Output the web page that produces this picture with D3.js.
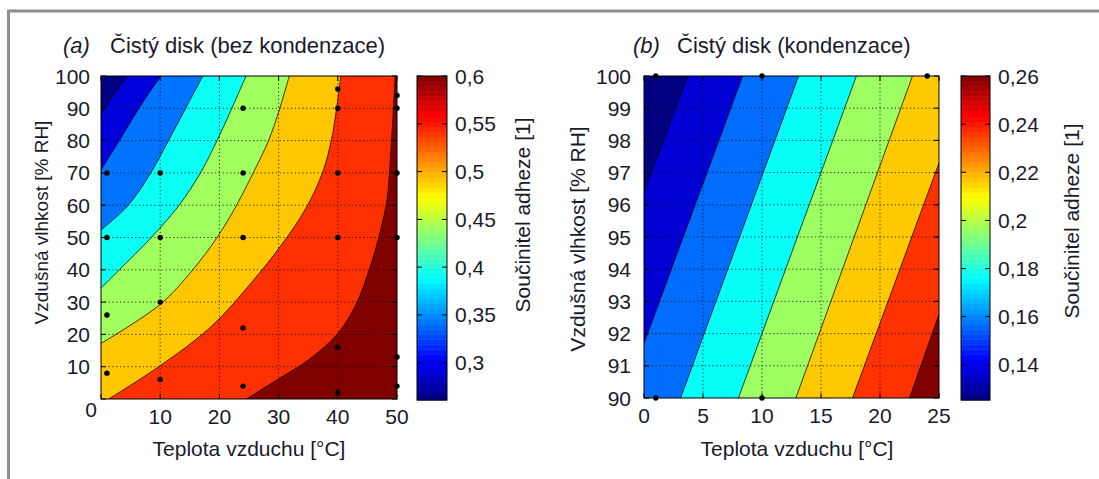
<!DOCTYPE html>
<html>
<head>
<meta charset="utf-8">
<script src="https://cdn.jsdelivr.net/npm/d3@7"></script>
<style>
  body { margin: 0; background: #fff; }
  text { font-family: "Liberation Sans", Arial, sans-serif; fill: #1a1a2a; }
</style>
</head>
<body>
<svg id="fig" width="1099" height="479"></svg>
<script>
// ---------- Panel (a): clean disc, no condensation ----------
const levelsA = [0.30, 0.35, 0.40, 0.45, 0.50, 0.55, 0.60];
// iso-lines of the adhesion coefficient, one list per level: temperature [°C] and humidity [% RH]
const isoTempA = [
  [0, 2.4, 4.5],
  [0, 3.1, 6.4, 10.1],
  [0, 4.6, 8.4, 11.4, 14.3, 17.2],
  [0, 3.1, 8.5, 13.2, 16.8, 19.6, 22.1, 24.5],
  [0, 10, 15.5, 19.6, 22.9, 25.7, 28.3, 30.2, 31.8],
  [1.3, 10, 18.6, 25.4, 30.6, 34.6, 37.4, 38.9, 39.8, 40.5],
  [24.6, 29.7, 35.2, 40, 43, 45.3, 47.1, 48.3, 48.9, 49.4, 49.7]
];
const isoRhA = [
  [88.3, 95, 100],
  [70.9, 80, 90, 100],
  [52.3, 60, 70, 80, 90, 100],
  [34.3, 40, 50, 60, 70, 80, 90, 100],
  [17.2, 29.3, 40, 50, 60, 70, 80, 90, 100],
  [0, 10.3, 22.4, 36, 48, 59, 70, 80, 90, 100],
  [0, 5.9, 12.3, 20.3, 29, 40, 51.3, 61.6, 75, 90, 100]
];
const climA = [0.261, 0.60];
const sampleTempA = [1, 1, 1, 1, 10, 10, 10, 10, 24, 24, 24, 24, 24, 40, 40, 40, 40, 40, 40, 50, 50, 50, 50, 50, 50];
const sampleRhA   = [70, 50, 26, 8, 70, 50, 30, 6, 90, 70, 50, 22, 4, 96, 90, 70, 50, 16, 2, 94, 90, 70, 50, 13, 4];
const xTicksA = [0, 10, 20, 30, 40, 50];
const yTicksA = [0, 10, 20, 30, 40, 50, 60, 70, 80, 90, 100];
const cbTicksA = [0.30, 0.35, 0.40, 0.45, 0.50, 0.55, 0.60];

// ---------- Panel (b): clean disc, condensation ----------
const levelsB = [0.14, 0.16, 0.18, 0.20, 0.22, 0.24, 0.26];
const isoTempB = [
  [0, 3.7], [0, 8.36], [3.1, 13.1], [8.0, 18.0], [12.87, 22.75], [17.67, 25], [22.5, 25]
];
const isoRhB = [
  [96.4, 100], [91.7, 100], [90, 100], [90, 100], [90, 100], [90, 97.3], [90, 92.6]
];
const climB = [0.1254, 0.26];
const sampleTempB = [1, 10, 24, 1, 10];
const sampleRhB   = [100, 100, 100, 90, 90];
const xTicksB = [0, 5, 10, 15, 20, 25];
const yTicksB = [90, 91, 92, 93, 94, 95, 96, 97, 98, 99, 100];
const cbTicksB = [0.14, 0.16, 0.18, 0.20, 0.22, 0.24, 0.26];

const xTitle = "Teplota vzduchu [°C]";
const yTitle = "Vzdušná vlhkost [% RH]";
const cbTitle = "Součinitel adheze [1]";

// ---------- helpers ----------
const svg = d3.select("#fig");
const FS = 21;
const czech = d3.formatLocale({ decimal: ",", thousands: " ", grouping: [3], currency: ["", " Kč"] });
const fmt = czech.format(".2~f");

// MATLAB-style jet colour map
function jet(t) {
  const c = v => Math.max(0, Math.min(1, v));
  const r = c(1.5 - Math.abs(4 * t - 3)), g = c(1.5 - Math.abs(4 * t - 2)), b = c(1.5 - Math.abs(4 * t - 1));
  return d3.rgb(r * 255, g * 255, b * 255).formatHex();
}

function panel(cfg) {
  const { box, cb, xDomain, yDomain, isoX, isoY, levels, clim, sx, sy, xTicks, yTicks, xLabels, cbTicks, id } = cfg;
  const x = d3.scaleLinear().domain(xDomain).range([box.x0, box.x1]);
  const y = d3.scaleLinear().domain(yDomain).range([box.y1, box.y0]);
  const g = svg.append("g");

  g.append("clipPath").attr("id", "clip" + id)
    .append("rect").attr("x", box.x0).attr("y", box.y0)
    .attr("width", box.x1 - box.x0).attr("height", box.y1 - box.y0);

  const bandColor = v => {
    const t = (v - clim[0]) / (clim[1] - clim[0]);
    return jet(t >= 0.999 ? 1 : Math.max(0, t - 0.025));
  };
  const curve = d3.line().x(p => x(p[0])).y(p => y(p[1])).curve(d3.curveCatmullRom.alpha(0.5));
  const [xmin, xmax] = xDomain, [ymin, ymax] = yDomain;

  const fills = g.append("g").attr("clip-path", `url(#clip${id})`);
  fills.append("rect").attr("x", box.x0).attr("y", box.y0)
    .attr("width", box.x1 - box.x0).attr("height", box.y1 - box.y0)
    .attr("fill", bandColor(clim[0]));

  // region above each level lies to the lower right of its iso-line
  const lines = levels.map((l, k) => isoX[k].map((v, i) => [v, isoY[k][i]]));
  lines.forEach((pts, k) => {
    const start = pts[0], end = pts[pts.length - 1];
    const corners = [];
    if (end[0] < xmax) corners.push([xmax, ymax]);
    corners.push([xmax, ymin]);
    if (start[1] > ymin) corners.push([xmin, ymin]);
    const d = curve(pts) + corners.map(c => `L${x(c[0])},${y(c[1])}`).join("") + "Z";
    fills.append("path").attr("d", d).attr("fill", bandColor(levels[k]));
  });
  lines.forEach(pts => {
    fills.append("path").attr("d", curve(pts)).attr("fill", "none")
      .attr("stroke", "#000").attr("stroke-width", 0.75);
  });

  // dotted grid
  const grd = g.append("g").attr("stroke", "#111").attr("stroke-width", 1)
    .attr("stroke-dasharray", "1.2,2.6").attr("opacity", 0.85);
  xTicks.slice(1, -1).forEach(v => grd.append("line")
    .attr("x1", x(v)).attr("x2", x(v)).attr("y1", box.y0).attr("y2", box.y1));
  yTicks.slice(1, -1).forEach(v => grd.append("line")
    .attr("y1", y(v)).attr("y2", y(v)).attr("x1", box.x0).attr("x2", box.x1));

  // frame and inward ticks on all four sides
  g.append("rect").attr("x", box.x0).attr("y", box.y0)
    .attr("width", box.x1 - box.x0).attr("height", box.y1 - box.y0)
    .attr("fill", "none").attr("stroke", "#000").attr("stroke-width", 1);
  const tk = g.append("g").attr("stroke", "#000").attr("stroke-width", 1);
  xTicks.forEach(v => {
    tk.append("line").attr("x1", x(v)).attr("x2", x(v)).attr("y1", box.y1).attr("y2", box.y1 - 5);
    tk.append("line").attr("x1", x(v)).attr("x2", x(v)).attr("y1", box.y0).attr("y2", box.y0 + 5);
  });
  yTicks.forEach(v => {
    tk.append("line").attr("y1", y(v)).attr("y2", y(v)).attr("x1", box.x0).attr("x2", box.x0 + 5);
    tk.append("line").attr("y1", y(v)).attr("y2", y(v)).attr("x1", box.x1).attr("x2", box.x1 - 5);
  });

  // tick labels
  xTicks.filter(v => xLabels.includes(v)).forEach(v => g.append("text")
    .attr("x", x(v)).attr("y", box.y1 + 25).attr("text-anchor", "middle")
    .attr("font-size", FS).text(v));
  yTicks.forEach(v => {
    const off = cfg.zeroShift && v === 0 ? cfg.zeroShift : [0, 0];
    g.append("text").attr("x", box.x0 - cfg.yLabelGap + off[0]).attr("y", y(v) + off[1])
      .attr("dy", "0.36em").attr("text-anchor", "end").attr("font-size", FS).text(v);
  });

  // measurement points
  g.append("g").selectAll("circle").data(d3.range(sx.length)).join("circle")
    .attr("cx", i => x(sx[i])).attr("cy", i => y(sy[i])).attr("r", 2.7).attr("fill", "#000");

  // colour bar
  const cy = d3.scaleLinear().domain(clim).range([cb.y1, cb.y0]);
  const nSteps = 64;
  const cbg = g.append("g");
  d3.range(nSteps).forEach(k => {
    const v0 = clim[0] + (clim[1] - clim[0]) * k / nSteps;
    const v1 = clim[0] + (clim[1] - clim[0]) * (k + 1) / nSteps;
    cbg.append("rect").attr("x", cb.x0).attr("width", cb.x1 - cb.x0)
      .attr("y", cy(v1)).attr("height", cy(v0) - cy(v1) + 0.5)
      .attr("fill", jet((k + 0.5) / nSteps));
  });
  cbg.append("rect").attr("x", cb.x0).attr("y", cb.y0)
    .attr("width", cb.x1 - cb.x0).attr("height", cb.y1 - cb.y0)
    .attr("fill", "none").attr("stroke", "#000").attr("stroke-width", 1);
  cbTicks.forEach(v => {
    cbg.append("line").attr("x1", cb.x0).attr("x2", cb.x0 + 5).attr("y1", cy(v)).attr("y2", cy(v)).attr("stroke", "#000");
    cbg.append("line").attr("x1", cb.x1).attr("x2", cb.x1 - 5).attr("y1", cy(v)).attr("y2", cy(v)).attr("stroke", "#000");
    cbg.append("text").attr("x", cb.x1 + 8).attr("y", cy(v)).attr("dy", "0.36em")
      .attr("font-size", FS).text(fmt(v));
  });

  // titles and axis labels
  g.append("text").attr("x", cfg.tagX).attr("y", 53).attr("font-size", 22)
    .attr("font-style", "italic").text(cfg.tag);
  g.append("text").attr("x", cfg.titleX).attr("y", 53).attr("font-size", 22).text(cfg.title);
  g.append("text").attr("x", cfg.xLabelX).attr("y", 456).attr("text-anchor", "middle")
    .attr("font-size", FS).text(xTitle);
  g.append("text").attr("transform", `translate(${cfg.yLabelPos[0]},${cfg.yLabelPos[1]}) rotate(-90)`)
    .attr("text-anchor", "middle").attr("font-size", cfg.yLabelSize).text(yTitle);
  g.append("text").attr("transform", `translate(${cfg.cbLabelPos[0]},${cfg.cbLabelPos[1]}) rotate(-90)`)
    .attr("text-anchor", "middle").attr("font-size", FS).text(cbTitle);
}

// outer frame of the figure
svg.append("path").attr("d", "M8.5,479 V11 H1099").attr("fill", "none")
  .attr("stroke", "#8e8e8e").attr("stroke-width", 3);

panel({
  id: "a", box: { x0: 101, x1: 397, y0: 76, y1: 399 }, cb: { x0: 417, x1: 447, y0: 76, y1: 400 },
  xDomain: [0, 50], yDomain: [0, 100], isoX: isoTempA, isoY: isoRhA, levels: levelsA, clim: climA,
  sx: sampleTempA, sy: sampleRhA, xTicks: xTicksA, yTicks: yTicksA, xLabels: [10, 20, 30, 40, 50],
  cbTicks: cbTicksA, yLabelGap: 11, zeroShift: [7, 10],
  tag: "(a)", tagX: 63, title: "Čistý disk (bez kondenzace)", titleX: 110,
  xLabelX: 249, yLabelPos: [47.5, 222.5], yLabelSize: 19, cbLabelPos: [530, 215]
});

panel({
  id: "b", box: { x0: 644, x1: 939, y0: 76, y1: 398 }, cb: { x0: 961, x1: 990, y0: 76, y1: 400 },
  xDomain: [0, 25], yDomain: [90, 100], isoX: isoTempB, isoY: isoRhB, levels: levelsB, clim: climB,
  sx: sampleTempB, sy: sampleRhB, xTicks: xTicksB, yTicks: yTicksB, xLabels: xTicksB,
  cbTicks: cbTicksB, yLabelGap: 13,
  tag: "(b)", tagX: 633, title: "Čistý disk (kondenzace)", titleX: 677,
  xLabelX: 797, yLabelPos: [585, 239], yLabelSize: FS, cbLabelPos: [1079, 221]
});
</script>
</body>
</html>
